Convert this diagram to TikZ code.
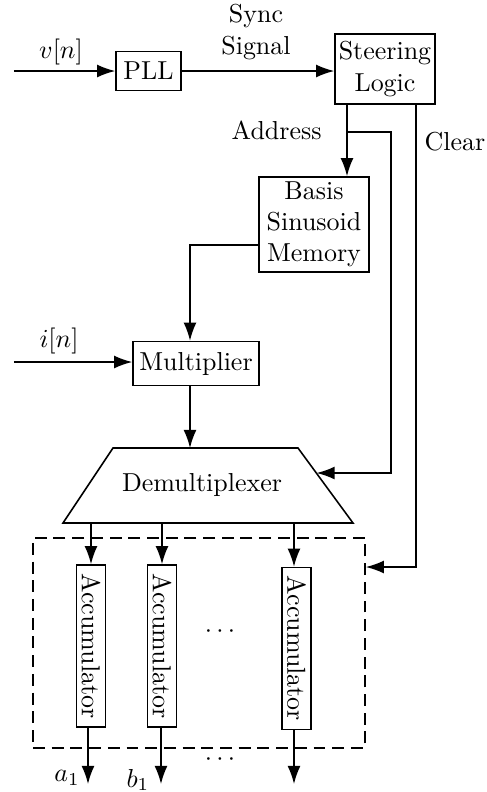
\documentclass[tikz,border=0pt]{standalone}
\usetikzlibrary{arrows.meta}
\begin{document}
\begin{tikzpicture}[x=0.385pt,y=-0.385pt,
  line width=0.6pt,
  arr/.style={-{Latex[length=7pt,width=5pt]}},
  blk/.style={draw,inner sep=0pt,align=center,minimum width=#1},
  accu/.style={draw,inner sep=0pt,rotate=-90,minimum width=162*0.385pt,minimum height=29*0.385pt}]
\useasboundingbox (0,0) rectangle (487,792);
% blocks
\node[blk=65*0.385pt,minimum height=39*0.385pt] (pll) at (148.5,71) {PLL};
\node[blk=100*0.385pt,minimum height=70*0.385pt] (steer) at (385,69) {Steering\\Logic};
\node[blk=110*0.385pt,minimum height=95*0.385pt] (basis) at (314,224.5) {Basis\\Sinusoid\\Memory};
\node[blk=126*0.385pt,minimum height=44*0.385pt] (mult) at (196,363.5) {Multiplier};
% demultiplexer
\draw (113,448) -- (298,448) -- (353,523) -- (63,523) -- cycle;
\node (demux) at (202,485) {Demultiplexer};
\coordinate (dmxin) at (190,448);
\coordinate (dmxr) at (316.5,473);
\coordinate (o1) at (91,523);
\coordinate (o2) at (162,523);
\coordinate (o3) at (294,523);
% accumulator group
\node[draw,dashed,dash pattern=on 4.6pt off 2.6pt,minimum width=332*0.385pt,minimum height=210*0.385pt,inner sep=0pt] (group) at (199,643) {};
\node[accu] (acc1) at (91,646) {Accumulator};
\node[accu] (acc2) at (162,646) {Accumulator};
\node[accu] (acc3) at (296.5,648.5) {Accumulator};
\node (dotsin) at (220,632) {$\cdots$};
\node (dotsout) at (220,760) {$\cdots$};
% inputs
\coordinate (vin) at (14,71);
\coordinate (iin) at (14,362);
\node (vlab) at (61,52) {$v[n]$};
\node (ilab) at (59,341) {$i[n]$};
\draw[arr] (vin) -- (pll.west |- vin);
\draw[arr] (iin) -- (mult.west |- iin);
% sync
\node[align=center] (sync) at (256,32) {Sync\\Signal};
\draw[arr] (pll.east) -- (pll.east -| steer.west);
% address
\coordinate (addr) at (347,132);
\coordinate (turn) at (391,473);
\node[anchor=east] (addrlab) at (331,130) {Address};
\draw[arr] (steer.south -| addr) -- (basis.north -| addr);
\draw[arr] (addr) -| (turn) -- (dmxr);
% clear
\coordinate (clr) at (416,567);
\node (clrlab) at (455,142) {Clear};
\draw[arr] (steer.south -| clr) |- (clr -| group.east);
% memory to multiplier
\coordinate (mm) at (190,245);
\draw[arr] (basis.west |- mm) -| (mult.north -| mm);
\draw[arr] (mult.south -| dmxin) -- (dmxin);
% demux to accumulators
\draw[arr] (o1) -- (o1 |- acc1.west);
\draw[arr] (o2) -- (o2 |- acc2.west);
\draw[arr] (o3) -- (o3 |- acc3.west);
% outputs
\coordinate (e1) at (88,784);
\coordinate (e2) at (161,784);
\coordinate (e3) at (294,784);
\draw[arr] (acc1.east -| e1) -- (e1);
\draw[arr] (acc2.east -| e2) -- (e2);
\draw[arr] (acc3.east -| e3) -- (e3);
\node (a1) at (67,778) {$a_1$};
\node (b1) at (138,780) {$b_1$};
\end{tikzpicture}
\end{document}
